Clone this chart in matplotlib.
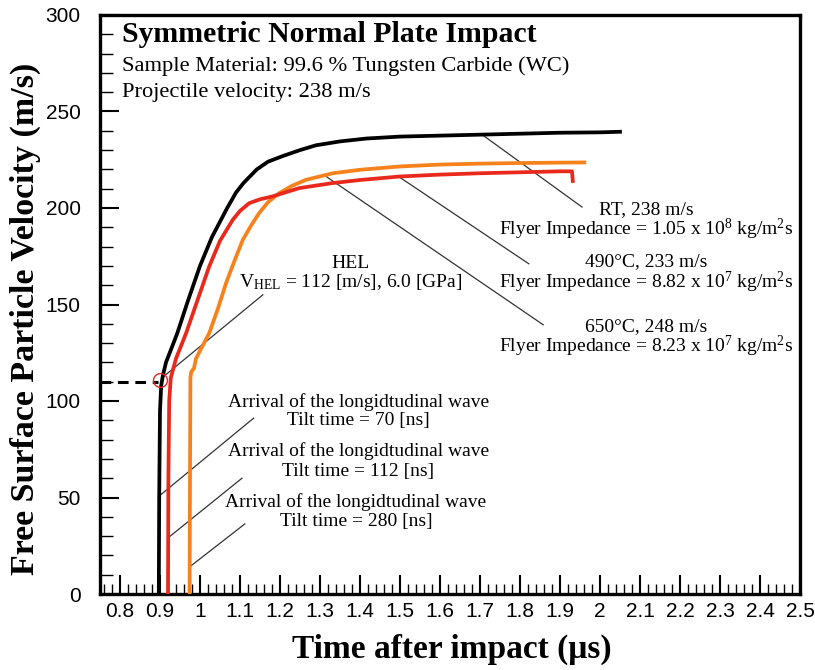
import matplotlib
matplotlib.use("Agg")
import matplotlib.pyplot as plt
from matplotlib.ticker import FixedLocator, MultipleLocator
import numpy as np

plt.rcParams['mathtext.fontset'] = 'custom'
plt.rcParams['mathtext.rm'] = 'Liberation Serif'
plt.rcParams['mathtext.it'] = 'Liberation Serif:italic'
plt.rcParams['mathtext.bf'] = 'Liberation Serif:bold'

SERIF = ['Liberation Serif', 'DejaVu Serif']
SANS = ['Liberation Sans Narrow', 'Liberation Sans', 'DejaVu Sans']

# ---- data ----
rt_t = [0.897, 0.898, 0.900, 0.903, 0.907, 0.915, 0.930, 0.943, 0.970, 1.000, 1.030,
        1.068, 1.090, 1.109, 1.142, 1.170, 1.208, 1.250, 1.290, 1.350, 1.416, 1.500,
        1.600, 1.700, 1.800, 1.900, 2.000, 2.050]
rt_v = [0, 50, 95, 108, 113, 120, 128, 135, 152, 170, 185,
        200, 208, 213, 220, 224, 227, 230, 232.5, 234.5, 236, 237,
        237.5, 238, 238.5, 239, 239.2, 239.5]

c490_t = [0.920, 0.921, 0.923, 0.927, 0.940, 0.965, 0.990, 1.023, 1.050, 1.082, 1.100,
          1.123, 1.150, 1.181, 1.248, 1.331, 1.400, 1.498, 1.600, 1.700, 1.800, 1.900,
          1.930, 1.932]
c490_v = [0, 60, 100, 112, 122, 135, 150, 169.7, 183, 193.9, 198.5,
          202.5, 204.5, 206, 210.3, 212.9, 214.5, 216.3, 217.3, 218, 218.5, 219,
          219, 214]

c650_t = [0.974, 0.975, 0.976, 0.978, 0.985, 0.990, 1.005, 1.023, 1.045, 1.065, 1.085,
          1.107, 1.128, 1.148, 1.170, 1.198, 1.230, 1.265, 1.332, 1.400, 1.498, 1.600,
          1.700, 1.800, 1.900, 1.961]
c650_v = [0, 60, 112, 115, 117, 122, 128, 135.1, 148, 161, 172,
          183.5, 191, 197.4, 203, 207.7, 211.5, 214.6, 218, 219.8, 221.5, 222.5,
          223, 223.3, 223.5, 223.6]

hel_t, hel_v = 0.900, 110.8
dash_t = [0.75, 0.895]
dash_v = [110, 110]

x_ticks = [0.8, 0.9, 1.0, 1.1, 1.2, 1.3, 1.4, 1.5, 1.6, 1.7, 1.8, 1.9, 2.0, 2.1, 2.2, 2.3, 2.4, 2.5]
x_labels = ['0.8', '0.9', '1', '1.1', '1.2', '1.3', '1.4', '1.5', '1.6', '1.7', '1.8', '1.9',
            '2', '2.1', '2.2', '2.3', '2.4', '2.5']
y_ticks = [0, 50, 100, 150, 200, 250, 300]

# annotation leader lines: (x0, y0, x1, y1)
leaders = [
    (1.702, 238.5, 1.955, 200.5),
    (1.495, 216.5, 1.822, 171.1),
    (1.312, 216.8, 1.858, 139.5),
    (0.905, 112.0, 1.157, 155.0),
    (1.134, 91.1, 0.901, 51.3),
    (1.105, 60.0, 0.919, 28.9),
    (1.112, 36.3, 0.975, 14.2),
]

BLACK = '#000000'
RED = '#e8291c'
ORANGE = '#f7821b'

fig = plt.figure(figsize=(8.15, 6.7), dpi=100)
ax = fig.add_axes([100 / 815, 76 / 670, 700 / 815, 579 / 670])

for (x0, y0, x1, y1) in leaders:
    ax.plot([x0, x1], [y0, y1], color='#333333', lw=0.9, zorder=2)

ax.plot(dash_t, dash_v, color='black', lw=2.2, ls=(0, (3.5, 2.2)), zorder=3)
ax.plot(c650_t, c650_v, color=ORANGE, lw=2.7, zorder=4, solid_joinstyle='round')
ax.plot(c490_t, c490_v, color=RED, lw=2.7, zorder=5, solid_joinstyle='round')
ax.plot(rt_t, rt_v, color=BLACK, lw=2.7, zorder=6, solid_joinstyle='round')
ax.plot([hel_t], [hel_v], marker='o', ms=10, mfc='none', mec=RED, mew=1.0, zorder=7)

ax.set_xlim(0.75, 2.5)
ax.set_ylim(0, 300)

ax.xaxis.set_major_locator(FixedLocator(x_ticks))
ax.set_xticklabels(x_labels)
ax.xaxis.set_minor_locator(MultipleLocator(0.02))
ax.yaxis.set_major_locator(FixedLocator(y_ticks))
ax.yaxis.set_minor_locator(MultipleLocator(10))

ax.tick_params(axis='both', which='both', direction='in', top=False, right=False,
               color='black')
ax.tick_params(axis='x', which='major', length=14, width=1.5, pad=6)
ax.tick_params(axis='x', which='minor', length=7, width=1.0)
ax.tick_params(axis='y', which='major', length=14, width=1.5, pad=14)
ax.tick_params(axis='y', which='minor', length=9, width=1.0)
for lab in ax.get_xticklabels() + ax.get_yticklabels():
    lab.set_family(SANS)
    lab.set_fontsize(15)
for s in ax.spines.values():
    s.set_linewidth(2.4)

ax.set_xlabel('Time after impact (\u03bcs)', family=SERIF, fontweight='bold', fontsize=24)
ax.xaxis.set_label_coords(0.503, -0.068)
ax.set_ylabel('Free Surface Particle Velocity (m/s)', family=SERIF, fontweight='bold',
              fontsize=24.5)
ax.yaxis.set_label_coords(-0.084, 0.475)

# header texts
ax.text(0.806, 289.8, 'Symmetric Normal Plate Impact', family=SERIF, fontweight='bold',
        fontsize=21.4, va='center', ha='left')
ax.text(0.806, 273.7, 'Sample Material: 99.6 % Tungsten Carbide (WC)', family=SERIF,
        fontsize=16.2, va='center', ha='left')
ax.text(0.806, 259.7, 'Projectile velocity: 238 m/s', family=SERIF,
        fontsize=16.2, va='center', ha='left')

# right-hand labels
tfs = 14
cx = 2.115
ax.text(cx, 199.4, 'RT, 238 m/s', family=SERIF, fontsize=tfs, ha='center', va='center')
ax.text(cx, 188.7, r'Flyer Impedance = 1.05 x 10$^{8}$ kg/m$^{2}$s', family=SERIF,
        fontsize=tfs, ha='center', va='center')
ax.text(cx, 172.2, '490\u00b0C, 233 m/s', family=SERIF, fontsize=tfs, ha='center', va='center')
ax.text(cx, 161.4, r'Flyer Impedance = 8.82 x 10$^{7}$ kg/m$^{2}$s', family=SERIF,
        fontsize=tfs, ha='center', va='center')
ax.text(cx, 138.6, '650\u00b0C, 248 m/s', family=SERIF, fontsize=tfs, ha='center', va='center')
ax.text(cx, 128.2, r'Flyer Impedance = 8.23 x 10$^{7}$ kg/m$^{2}$s', family=SERIF,
        fontsize=tfs, ha='center', va='center')

# HEL label
ax.text(1.377, 171.4, 'HEL', family=SERIF, fontsize=tfs, ha='center', va='center')
ax.text(1.098, 161.9, r'V$_{\mathrm{HEL}}$ = 112 [m/s], 6.0 [GPa]', family=SERIF,
        fontsize=tfs, ha='left', va='center')

# arrival labels
ax.text(1.396, 99.7, 'Arrival of the longidtudinal wave', family=SERIF, fontsize=tfs,
        ha='center', va='center')
ax.text(1.396, 89.8, 'Tilt time = 70 [ns]', family=SERIF, fontsize=tfs, ha='center', va='center')
ax.text(1.396, 74.2, 'Arrival of the longidtudinal wave', family=SERIF, fontsize=tfs,
        ha='center', va='center')
ax.text(1.396, 63.3, 'Tilt time = 112 [ns]', family=SERIF, fontsize=tfs, ha='center', va='center')
ax.text(1.390, 47.8, 'Arrival of the longidtudinal wave', family=SERIF, fontsize=tfs,
        ha='center', va='center')
ax.text(1.390, 37.5, 'Tilt time = 280 [ns]', family=SERIF, fontsize=tfs, ha='center', va='center')

fig.savefig('out.png', dpi=100)
